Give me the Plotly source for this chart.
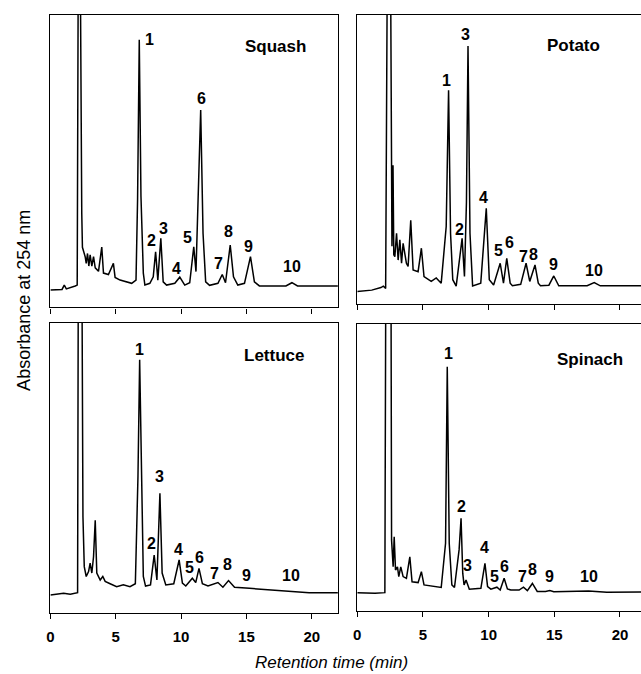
import plotly.graph_objects as go

# ---------------- data (retention time in min, absorbance in relative units) ----------------
PANEL_NAMES = ["Squash", "Potato", "Lettuce", "Spinach"]
PEAK_LABELS = ["1", "2", "3", "4", "5", "6", "7", "8", "9", "10"]
X_TICKS = [0, 5, 10, 15, 20]

squash_t = [0, 0.89, 1.06, 1.22, 1.9, 2.05, 2.14, 2.27, 2.40, 2.45,
            2.66, 2.74, 2.84, 2.94, 3.04, 3.17, 3.3, 3.43, 3.68, 3.93, 4.06, 4.44,
            4.82, 4.95, 5.33, 5.84, 6.22, 6.55, 6.67, 6.8, 6.93, 7.11, 7.23,
            7.61, 7.87, 8.05, 8.22, 8.45, 8.63, 8.89, 9.52, 9.9, 10.28,
            10.66, 10.97, 11.14, 11.27, 11.5, 11.68, 11.88, 12.18,
            12.82, 13.15, 13.4, 13.76, 14.01, 14.34, 14.85, 15.31, 15.61, 15.99,
            18.02, 18.48, 18.91, 22.0]
squash_a = [5.9, 6.1, 7.6, 6.3, 7.3, 7.6, 130, 130, 32, 20.5,
            17.3, 15.0, 18.4, 14.1, 17.9, 14.1, 17.3, 13.5, 12.3, 20.6, 11.7, 11.2,
            15.0, 10.2, 9.3, 8.7, 8.2, 9.3, 36.7, 91.4, 37.9, 11.7, 7.6,
            8.2, 10.4, 19.0, 9.3, 23.6, 8.7, 7.6, 8.2, 10.3, 7.6,
            8.4, 20.7, 12.2, 34.4, 67.4, 25.3, 8.7, 7.5,
            8.2, 11.2, 8.4, 21.3, 10.4, 7.6, 8.2, 17.3, 8.7, 7.3,
            7.3, 8.4, 7.3, 7.3]

potato_t = [0, 1.1, 1.8, 1.98, 2.16, 2.3, 2.52, 2.64, 2.72, 2.78,
            2.86, 2.99, 3.11, 3.24, 3.37, 3.49, 3.74, 3.87, 4.07, 4.25,
            4.63, 4.88, 5.08, 5.63, 6.01, 6.39, 6.77, 6.95, 7.1, 7.27, 7.53,
            7.98, 8.16, 8.31, 8.43, 8.58, 8.78, 9.4, 9.82, 10.05, 10.38,
            10.88, 11.13, 11.38, 11.64, 11.81, 12.44, 12.85, 13.13, 13.53, 13.78, 13.95,
            14.59, 14.96, 15.34, 17.5, 18.04, 18.5, 21.6]
potato_a = [4.3, 4.8, 5.7, 6.2, 5.4, 130, 130, 20, 48, 17,
            16.4, 24.5, 15.2, 22.2, 14.1, 21.0, 14.1, 13.0, 29.0, 11.8,
            11.2, 19.3, 9.5, 7.8, 9.0, 7.2, 26.8, 74.0, 24.5, 8.4, 6.2,
            22.7, 9.5, 35.0, 89.3, 24.5, 6.2, 7.2, 33.1, 8.4, 6.6,
            14.1, 7.2, 15.8, 7.2, 6.3, 6.8, 14.1, 7.8, 13.5, 7.2, 6.3,
            6.5, 9.7, 6.3, 6.3, 7.4, 6.3, 6.3]

lettuce_t = [0, 1.01, 1.52, 2.03, 2.08, 2.14, 2.4, 2.49, 2.59,
             2.74, 2.92, 3.04, 3.17, 3.3, 3.43, 3.55, 3.81, 4.01, 4.19, 4.57,
             5.07, 5.58, 6.09, 6.5, 6.7, 6.83, 6.95, 7.11, 7.28,
             7.66, 7.94, 8.15, 8.38, 8.55, 8.83, 9.44, 9.85, 10.1, 10.36,
             10.86, 11.12, 11.37, 11.63, 12.06, 12.82, 13.2, 13.63, 14.09,
             15.23, 16.25, 17.26, 18.53, 19.8, 22.0]
lettuce_a = [6.1, 6.7, 6.4, 6.9, 6.9, 130, 130, 33.2, 15.9,
             12.5, 14.2, 17.1, 13.7, 19.3, 31.9, 13.7, 11.3, 12.5, 10.8, 10.0,
             9.0, 9.6, 9.0, 10.0, 47.0, 87.3, 47.0, 12.5, 9.2,
             9.6, 19.9, 11.3, 41.2, 13.7, 9.6, 10.0, 18.2, 10.2, 9.2,
             11.9, 10.4, 15.3, 10.0, 9.2, 10.4, 8.8, 11.1, 8.8,
             8.4, 8.1, 7.6, 7.3, 6.9, 6.9]

spinach_t = [0, 1.35, 2.1, 2.18, 2.56, 2.61, 2.73, 2.81, 2.91,
             3.06, 3.16, 3.31, 3.49, 3.74, 4.0, 4.17, 4.63, 4.88, 5.08,
             5.63, 6.39, 6.72, 6.85, 7.0, 7.2, 7.4, 7.75, 7.9, 8.03, 8.13,
             8.28, 8.53, 9.41, 9.72, 9.92, 10.17, 10.63, 10.88, 11.18, 11.43, 11.69,
             12.32, 12.65, 12.95, 13.33, 13.7, 14.33, 14.66, 14.96, 17.61, 19.0, 21.6]
spinach_a = [6.3, 6.1, 6.3, 130, 130, 24.7, 15.3, 25.8, 14.2,
             15.3, 11.9, 15.3, 11.9, 11.3, 18.8, 10.1, 9.8, 13.6, 9.0,
             8.6, 8.1, 23.5, 85.1, 23.5, 9.0, 8.1, 21.2, 32.2, 13.0, 9.0,
             10.7, 7.5, 7.8, 16.5, 8.4, 7.5, 8.2, 7.2, 11.3, 7.6, 7.2,
             7.2, 8.2, 7.0, 9.5, 6.7, 6.7, 7.0, 6.6, 6.9, 6.4, 6.5]

# peak-number label anchor points (time, absorbance) for each panel
squash_lab_t = [7.56, 7.74, 8.68, 9.64, 10.46, 11.55, 12.89, 13.63, 15.16, 18.48]
squash_lab_a = [91.4, 23.0, 27.1, 13.4, 24.0, 71.5, 15.1, 25.8, 20.7, 13.9]
potato_lab_t = [6.77, 7.78, 8.21, 9.62, 10.76, 11.56, 12.65, 13.45, 14.92, 17.99]
potato_lab_a = [77.5, 25.8, 93.1, 36.9, 18.4, 21.2, 16.6, 17.3, 13.5, 11.5]
lettuce_lab_t = [6.85, 7.74, 8.38, 9.77, 10.66, 11.42, 12.57, 13.53, 14.97, 18.4]
lettuce_lab_a = [90.8, 24.0, 47.0, 21.9, 15.7, 19.1, 13.4, 16.5, 13.0, 12.7]
spinach_lab_t = [6.94, 7.9, 8.41, 9.72, 10.48, 11.18, 12.57, 13.33, 14.66, 17.61]
spinach_lab_a = [89.8, 36.3, 15.6, 22.1, 11.9, 15.3, 11.9, 14.5, 12.1, 12.1]

name_t = [17.26, 16.47, 17.14, 17.69]
name_a = [89.1, 89.6, 88.7, 87.7]

# ---------------- layout geometry ----------------
W, H = 641, 674
FONT = "Liberation Sans, Arial, Helvetica, sans-serif"

def px_x(a, b):
    return [a / W, b / W]

def px_y(top, bottom):
    return [1 - bottom / H, 1 - top / H]

panels = [
    dict(t=squash_t, a=squash_a, lt=squash_lab_t, la=squash_lab_a,
         xd=px_x(46.7, 336), yd=px_y(14.7, 307.3), xr=[0, 22.0], mirror_y=True, labels=False),
    dict(t=potato_t, a=potato_a, lt=potato_lab_t, la=potato_lab_a,
         xd=px_x(355.5, 641), yd=px_y(15, 304), xr=[0, 21.6], mirror_y=False, labels=False),
    dict(t=lettuce_t, a=lettuce_a, lt=lettuce_lab_t, la=lettuce_lab_a,
         xd=px_x(46.7, 336), yd=px_y(323, 612.7), xr=[0, 22.0], mirror_y=True, labels=True),
    dict(t=spinach_t, a=spinach_a, lt=spinach_lab_t, la=spinach_lab_a,
         xd=px_x(355.5, 641), yd=px_y(324, 610.7), xr=[0, 21.6], mirror_y=False, labels=True),
]

fig = go.Figure()
annotations = []
layout = {}
for i, p in enumerate(panels):
    n = "" if i == 0 else str(i + 1)
    fig.add_trace(go.Scatter(x=p["t"], y=p["a"], mode="lines",
                             line=dict(color="black", width=1.5),
                             xaxis="x" + n, yaxis="y" + n,
                             hoverinfo="skip", showlegend=False))
    layout["xaxis" + n] = dict(
        domain=p["xd"], range=p["xr"], anchor="y" + n,
        showline=True, mirror=True, linecolor="black", linewidth=1.4,
        ticks="outside", tickvals=X_TICKS, ticktext=[f"<b>{v}</b>" for v in X_TICKS],
        ticklen=5, tickwidth=1.3, tickcolor="black",
        showticklabels=p["labels"], ticklabelstandoff=5,
        tickfont=dict(family=FONT, size=15, color="black"),
        showgrid=False, zeroline=False, fixedrange=True)
    layout["yaxis" + n] = dict(
        domain=p["yd"], range=[0, 100], anchor="x" + n,
        showline=True, mirror=p["mirror_y"], linecolor="black", linewidth=1.4,
        ticks="", showticklabels=False, showgrid=False, zeroline=False, fixedrange=True)
    for lab, lt, la in zip(PEAK_LABELS, p["lt"], p["la"]):
        annotations.append(dict(x=lt, y=la, xref="x" + n, yref="y" + n,
                                text="<b>" + lab + "</b>",
                                showarrow=False, xanchor="center", yanchor="middle",
                                font=dict(family=FONT, size=16, color="black")))
    annotations.append(dict(x=name_t[i], y=name_a[i], xref="x" + n, yref="y" + n,
                            text="<b>" + PANEL_NAMES[i] + "</b>", showarrow=False,
                            xanchor="center", yanchor="middle",
                            font=dict(family=FONT, size=17, color="black")))

annotations.append(dict(x=330 / W, y=1 - 662 / H, xref="paper", yref="paper",
                        text="<i>Retention time (min)</i>", showarrow=False,
                        xanchor="center", yanchor="middle",
                        font=dict(family=FONT, size=17, color="black")))
annotations.append(dict(x=20 / W, y=1 - 300 / H, xref="paper", yref="paper",
                        text="Absorbance at 254 nm", textangle=-90, showarrow=False,
                        xanchor="center", yanchor="middle",
                        font=dict(family=FONT, size=18, color="black")))

fig.update_layout(width=W, height=H, margin=dict(l=0, r=0, t=0, b=0),
                  paper_bgcolor="white", plot_bgcolor="white",
                  annotations=annotations, showlegend=False, **layout)

fig.write_html("out.html", config={"displayModeBar": False})
